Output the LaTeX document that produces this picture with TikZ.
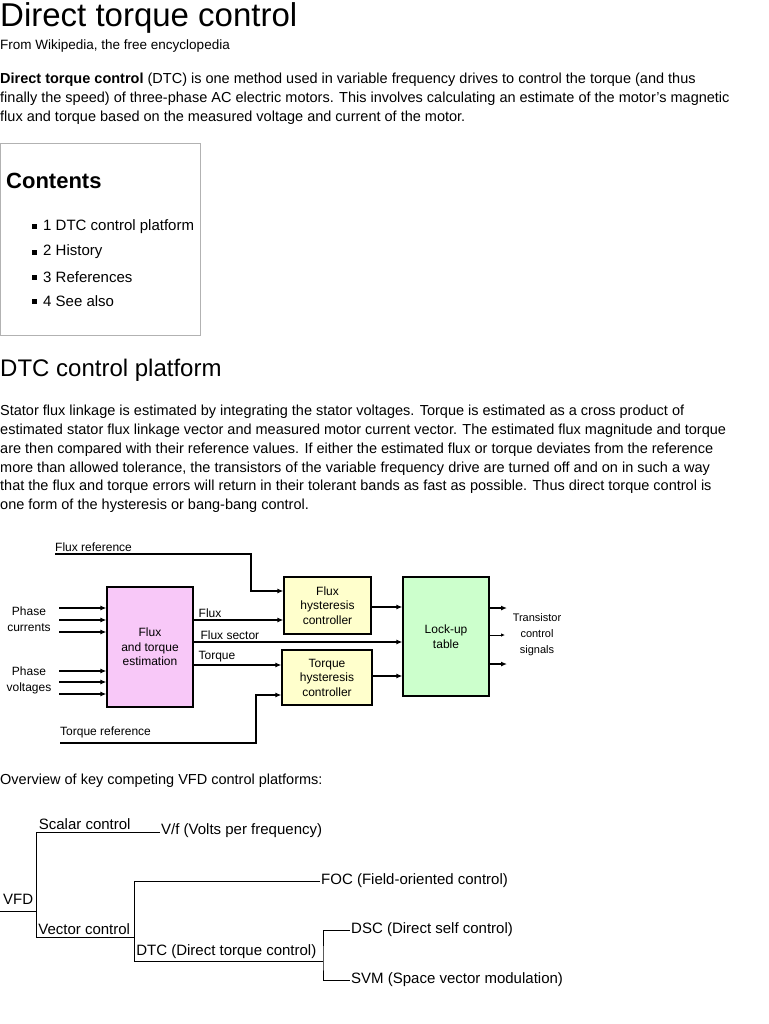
\documentclass[tikz,border=0pt]{standalone}
\usepackage{fontspec}
\setmainfont{Liberation Sans}
\usetikzlibrary{arrows.meta}
\definecolor{estpink}{HTML}{F8C8F8}
\definecolor{hystyellow}{HTML}{FFFFCC}
\definecolor{lookgreen}{HTML}{CCFFCC}
\tikzset{
  body/.style={anchor=west, inner sep=0pt, font=\fontsize{14.5}{16}\selectfont},
  small/.style={anchor=west, inner sep=0pt, font=\fontsize{13.5}{14}\selectfont},
  blk/.style={draw, line width=1.2pt, align=center, inner sep=1pt,
    font=\fontsize{12}{14.5}\selectfont},
  lbl/.style={inner sep=0pt, align=center, font=\fontsize{12}{14.5}\selectfont},
  sig/.style={line width=1.3pt, -{Latex[length=6pt,width=5pt]}},
  leaf/.style={anchor=west, inner sep=1pt, font=\fontsize{15}{16}\selectfont},
  br/.style={line width=0.8pt}
}
\begin{document}
\begin{tikzpicture}[x=1pt, y=-1pt]
  \useasboundingbox[fill=white] (0,0) rectangle (768,1024);
  % header
  \node[anchor=west, inner sep=0pt, font=\fontsize{33}{34}\selectfont] (title) at (0,18) {Direct torque control};
  \node[small] (from) at (0,46) {From Wikipedia, the free encyclopedia};
  \node[body] (i1) at (0,80) {\textbf{Direct torque control} (DTC) is one method used in variable frequency drives to control the torque (and thus};
  \node[body] (i2) at (0,99) {finally the speed) of three-phase AC electric motors. This involves calculating an estimate of the motor's magnetic};
  \node[body] (i3) at (0,118) {flux and torque based on the measured voltage and current of the motor.};
  % contents box
  \draw[gray!60] (0.5,143) rectangle (200,335);
  \node[anchor=west, inner sep=0pt, font=\fontsize{22}{24}\selectfont\bfseries] (toc) at (6,181) {Contents};
  \foreach \t/\y in {1 DTC control platform/227, 2 History/252, 3 References/277, 4 See also/301} {
    \fill (32,\y-2.5) rectangle (37,\y+2.5);
    \node[anchor=west, inner sep=0pt, font=\fontsize{15}{16}\selectfont] at (43,\y) {\t};
  }
  % section
  \node[anchor=west, inner sep=0pt, font=\fontsize{24}{26}\selectfont] (sec) at (0,370) {DTC control platform};
  \node[body] (p1) at (0,412) {Stator flux linkage is estimated by integrating the stator voltages. Torque is estimated as a cross product of};
  \node[body] (p2) at (0,431) {estimated stator flux linkage vector and measured motor current vector. The estimated flux magnitude and torque};
  \node[body] (p3) at (0,450) {are then compared with their reference values. If either the estimated flux or torque deviates from the reference};
  \node[body] (p4) at (0,469) {more than allowed tolerance, the transistors of the variable frequency drive are turned off and on in such a way};
  \node[body] (p5) at (0,487) {that the flux and torque errors will return in their tolerant bands as fast as possible. Thus direct torque control is};
  \node[body] (p6) at (0,506) {one form of the hysteresis or bang-bang control.};

  % block diagram
  \node[blk, fill=estpink, minimum width=86pt, minimum height=120pt] (est) at (150,647) {Flux\\and torque\\estimation};
  \node[blk, fill=hystyellow, minimum width=87pt, minimum height=57pt] (fhc) at (327.5,605.5) {Flux\\hysteresis\\controller};
  \node[blk, fill=hystyellow, minimum width=90pt, minimum height=55pt] (thc) at (327,677.5) {Torque\\hysteresis\\controller};
  \node[blk, fill=lookgreen, minimum width=86pt, minimum height=119pt] (lut) at (446,636.5) {Lock-up\\table};

  \node[lbl, font=\fontsize{12}{16}\selectfont] (cur) at (29,619) {Phase\\currents};
  \node[lbl, font=\fontsize{12}{16}\selectfont] (volt) at (29,680) {Phase\\voltages};
  \foreach \y in {608,620,632,671,682,694}
    \draw[sig] (59,\y) -- (est.west |- 0,\y);

  \node[lbl, anchor=west] (fref) at (55,547) {Flux reference};
  \coordinate (frefs) at (55,554);
  \draw[sig] (frefs) -| (251,591) -- (fhc.west |- 0,591);
  \node[lbl, anchor=west] (tref) at (60,732) {Torque reference};
  \coordinate (trefs) at (60,743);
  \draw[sig] (trefs) -| (256,695) -- (thc.west |- 0,695);

  \draw[sig] (est.east |- 0,620) -- node[lbl, pos=0.05, anchor=south west, yshift=2pt] {Flux} (fhc.west |- 0,620);
  \draw[sig] (est.east |- 0,642) -- node[lbl, pos=0.03, anchor=south west, yshift=2pt] {Flux sector} (lut.west |- 0,642);
  \draw[sig] (est.east |- 0,665) -- node[lbl, pos=0.05, anchor=south west, yshift=2pt] {Torque} (thc.west |- 0,665);
  \draw[sig] (fhc.east |- 0,607) -- (lut.west |- 0,607);
  \draw[sig] (thc.east |- 0,676) -- (lut.west |- 0,676);

  \node[lbl, font=\fontsize{11}{16}\selectfont] (tcs) at (537,635) {Transistor\\control\\signals};
  \coordinate (o1) at (507,608);
  \coordinate (o2) at (505,635);
  \coordinate (o3) at (507,664);
  \draw[sig] (lut.east |- o1) -- (o1);
  \draw[line width=0.8pt, -{Latex[length=4pt,width=3.5pt]}] (lut.east |- o2) -- (o2);
  \draw[sig] (lut.east |- o3) -- (o3);

  % overview tree
  \node[body] (ov) at (0,781) {Overview of key competing VFD control platforms:};
  \node[leaf] (vfd) at (2,899) {VFD};
  \node[leaf] (vf) at (160,831) {V/f (Volts per frequency)};
  \node[leaf] (foc) at (320,881) {FOC (Field-oriented control)};
  \node[leaf] (dsc) at (350,930) {DSC (Direct self control)};
  \node[leaf] (svm) at (350,980) {SVM (Space vector modulation)};
  \coordinate (root) at (0,911);
  \coordinate (sc) at (36,832);
  \coordinate (vc) at (36,937);
  \coordinate (vcj) at (134,937);
  \coordinate (dtcj) at (323,961);
  \draw[br] (root) -- (36,911) (sc) |- (vc);
  \draw[br] (sc) -- node[leaf, pos=0.02, anchor=south west, inner sep=0pt, yshift=2pt] {Scalar control} (vf.west |- sc);
  \draw[br] (vc) -- node[leaf, pos=0.02, anchor=south west, inner sep=0pt, yshift=2pt] {Vector control} (vcj);
  \draw[br] (foc.west) -| (134,961) -- node[leaf, pos=0.01, anchor=south west, inner sep=0pt, yshift=2pt] {DTC (Direct torque control)} (dtcj);
  \draw[br] (dsc.west) -| (dtcj) |- (svm.west);
\end{tikzpicture}
\end{document}
